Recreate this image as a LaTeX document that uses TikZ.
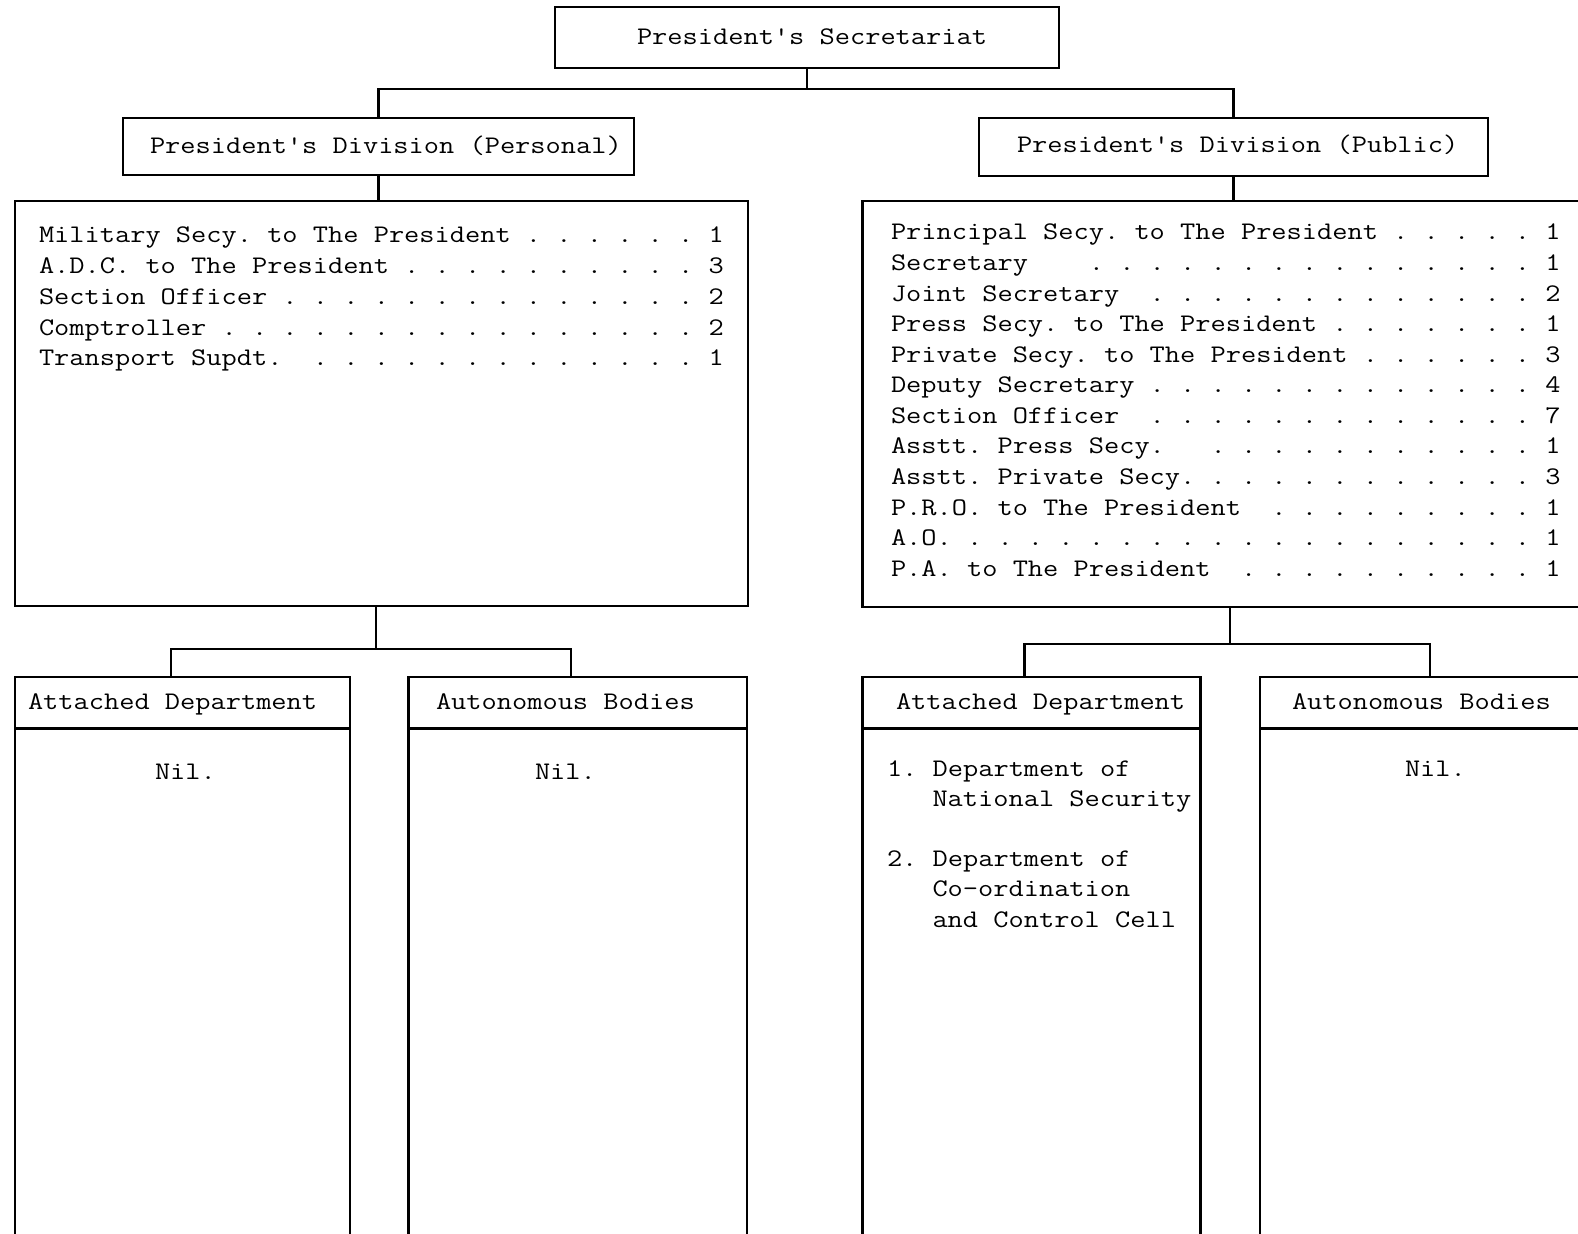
\documentclass[tikz,border=0pt]{standalone}
\usepackage{fontspec}
\setmonofont{Latin Modern Mono}[FakeStretch=1.168]
\newdimen\cw \cw=15.19pt
\newcommand\fsz{\fontsize{25.3}{30}\selectfont\ttfamily\frenchspacing}
\newcommand\drow[4]{\hbox{\hbox to #2\cw{#1\hss}\hbox to \numexpr#3-#2\relax\cw{\leaders\hbox to 2\cw{.\hss}\hfil}#4}}
\begin{document}
\setbox0\hbox{\fsz 0}\global\cw=\wd0
\begin{tikzpicture}[x=1pt,y=-1pt,
  ln/.style={line width=2.1pt,black},
  box/.style={draw,line width=2.1pt,inner sep=0pt,outer sep=0pt,anchor=north west},
  txt/.style={anchor=base west,inner sep=0pt,outer sep=0pt,font=\fsz}]
\useasboundingbox[fill=white] (0,0) rectangle (1578,1233);
% boxes
\node[box,minimum width=504pt,minimum height=61pt] (top) at (555,7) {};
\node[box,minimum width=511pt,minimum height=57pt] (pers) at (123,118) {};
\node[box,minimum width=509pt,minimum height=58pt] (pub) at (979,118) {};
\node[box,minimum width=733pt,minimum height=405pt] (perslist) at (15,201) {};
\node[box,minimum width=740pt,minimum height=406pt] (publist) at (862.5,201) {};
\node[box,minimum width=335pt,minimum height=51.5pt] (attL) at (15,677) {};
\node[box,minimum width=338.5pt,minimum height=51.5pt] (autL) at (408.5,677) {};
\node[box,minimum width=338pt,minimum height=51.5pt] (attR) at (862.5,677) {};
\node[box,minimum width=340pt,minimum height=51.5pt] (autR) at (1260,677) {};
\coordinate (bot) at (0,1245);
\foreach \b in {attL,autL,attR,autR}{
  \draw[ln] (\b.south west) -- (\b.south west |- bot);
  \draw[ln] (\b.south east) -- (\b.south east |- bot);
}
% connectors
\coordinate (j1) at (807,88.6);
\draw[ln] (top.south) -- (j1);
\draw[ln] (pers.north) |- (j1) -| (pub.north);
\draw[ln] (pers.south) -- (pers.south |- perslist.north);
\draw[ln] (pub.south) -- (pub.south |- publist.north);
\coordinate (j2) at (376,649);
\coordinate (dL1) at (171,649);
\coordinate (dL2) at (571,649);
\draw[ln] (j2 |- perslist.south) -- (j2);
\draw[ln] (dL1 |- attL.north) -- (dL1) -- (dL2) -- (dL2 |- autL.north);
\coordinate (j3) at (1230,644);
\coordinate (dR1) at (1024.5,644);
\coordinate (dR2) at (1430,644);
\draw[ln] (j3 |- publist.south) -- (j3);
\draw[ln] (dR1 |- attR.north) -- (dR1) -- (dR2) -- (dR2 |- autR.north);
% titles
\node[txt] (topt) at (637,44.5) {President's Secretariat};
\node[txt] (perst) at (150,154) {President's Division (Personal)};
\node[txt] (pubt) at (1017,153) {President's Division (Public)};
% left list
\foreach \t/\d/\n [count=\i] in {Military Secy. to The President/32/1,
  A.D.C. to The President/24/3, Section Officer/16/2, Comptroller/12/2,
  Transport Supdt./18/1}{
  \node[txt] (pl\i) at (39,{243+30.7*(\i-1)}) {\drow{\t}{\d}{44}{\n}};
}
% right list
\foreach \t/\d/\n [count=\i] in {Principal Secy. to The President/33/1,
  Secretary/13/1, Joint Secretary/17/2, Press Secy. to The President/29/1,
  Private Secy. to The President/31/3, Deputy Secretary/17/4,
  Section Officer/17/7, Asstt. Press Secy./21/1, Asstt. Private Secy./21/3,
  P.R.O. to The President/25/1, A.O./5/1, P.A. to The President/23/1}{
  \node[txt] (pr\i) at (891,{240+30.56*(\i-1)}) {\drow{\t}{\d}{43}{\n}};
}
% lower headers
\node[txt] (attLt) at (28,709) {Attached Department};
\node[txt] (autLt) at (436,709) {Autonomous Bodies};
\node[txt] (attRt) at (896,709) {Attached Department};
\node[txt] (autRt) at (1292,709) {Autonomous Bodies};
\node[txt] (nil1) at (155,779) {Nil.};
\node[txt] (nil2) at (535,779) {Nil.};
\node[txt] (nil3) at (1405,776) {Nil.};
\node[txt] (a1) at (887,776) {1. Department of};
\node[txt] (a2) at (932.5,806) {National Security};
\node[txt] (a3) at (887,866.5) {2. Department of};
\node[txt] (a4) at (932.5,896.6) {Co-ordination};
\node[txt] (a5) at (932.5,927) {and Control Cell};
\end{tikzpicture}
\end{document}
